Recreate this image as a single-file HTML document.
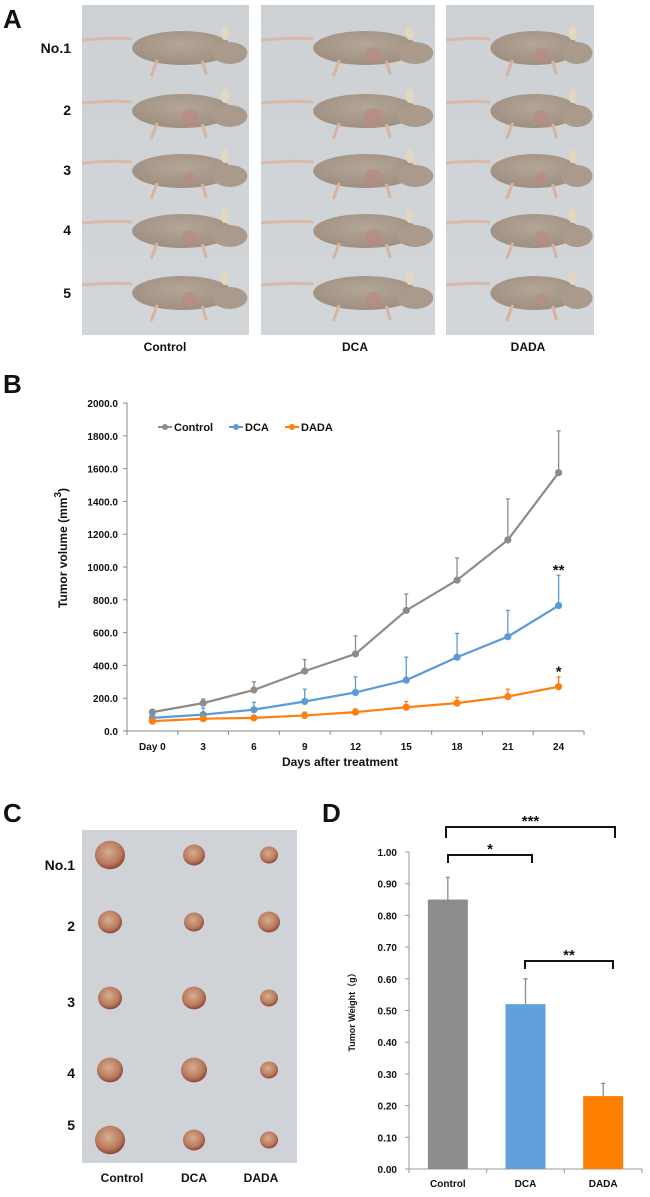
<!DOCTYPE html>
<html><head><meta charset="utf-8">
<style>
html,body{margin:0;padding:0;background:#fff;}
svg{display:block;font-family:"Liberation Sans",sans-serif;}
.t{font-weight:bold;fill:#111;}
</style></head>
<body>
<svg id="fig" width="650" height="1197" viewBox="0 0 650 1197">
<defs>
<linearGradient id="bgA" x1="0" y1="0" x2="0" y2="1"><stop offset="0" stop-color="#cdd1d4"/><stop offset="1" stop-color="#d3d6d8"/></linearGradient>
<radialGradient id="mouse" cx="0.5" cy="0.4" r="0.6"><stop offset="0" stop-color="#b4a696"/><stop offset="1" stop-color="#9e8f80"/></radialGradient>
<radialGradient id="tum" cx="0.45" cy="0.4" r="0.6"><stop offset="0" stop-color="#d5ae90"/><stop offset="0.7" stop-color="#b97a5e"/><stop offset="1" stop-color="#8c4634"/></radialGradient>
</defs>

<text class="t" x="3" y="28" font-size="26">A</text>
<g id="panelA"></g>
<text class="t" x="71" y="53" font-size="14" text-anchor="end">No.1</text>
<text class="t" x="71" y="115" font-size="14" text-anchor="end">2</text>
<text class="t" x="71" y="175" font-size="14" text-anchor="end">3</text>
<text class="t" x="71" y="235" font-size="14" text-anchor="end">4</text>
<text class="t" x="71" y="298" font-size="14" text-anchor="end">5</text>
<text class="t" x="165" y="351" font-size="12" text-anchor="middle">Control</text>
<text class="t" x="355" y="351" font-size="12" text-anchor="middle">DCA</text>
<text class="t" x="528" y="351" font-size="12" text-anchor="middle">DADA</text>

<text class="t" x="3" y="393" font-size="26">B</text>
<g id="chartB"></g>

<text class="t" x="3" y="822" font-size="26">C</text>
<g id="panelC"></g>
<text class="t" x="75" y="870" font-size="14" text-anchor="end">No.1</text>
<text class="t" x="75" y="931" font-size="14" text-anchor="end">2</text>
<text class="t" x="75" y="1007" font-size="14" text-anchor="end">3</text>
<text class="t" x="75" y="1078" font-size="14" text-anchor="end">4</text>
<text class="t" x="75" y="1130" font-size="14" text-anchor="end">5</text>
<text class="t" x="122" y="1182" font-size="12" text-anchor="middle">Control</text>
<text class="t" x="194" y="1182" font-size="12" text-anchor="middle">DCA</text>
<text class="t" x="261" y="1182" font-size="12" text-anchor="middle">DADA</text>

<text class="t" x="322" y="822" font-size="26">D</text>
<g id="chartD"></g>
</svg>

<script>
const daysB = ["Day 0","3","6","9","12","15","18","21","24"];
const controlVol = [115,170,250,365,470,735,920,1165,1575];
const controlErr = [15,25,50,70,110,100,135,250,255];
const dcaVol = [80,100,130,180,235,310,450,575,765];
const dcaErr = [15,40,45,75,95,140,145,160,185];
const dadaVol = [60,75,80,95,115,145,170,210,270];
const dadaErr = [10,15,15,20,20,35,35,45,60];
const yTicksB = [0,200,400,600,800,1000,1200,1400,1600,1800,2000];

const groupsD = ["Control","DCA","DADA"];
const weightD = [0.85,0.52,0.23];
const weightErr = [0.07,0.08,0.04];
const yTicksD = [0,0.1,0.2,0.3,0.4,0.5,0.6,0.7,0.8,0.9,1.0];

const NS="http://www.w3.org/2000/svg";
function mk(parent,tag,attrs,text){const e=document.createElementNS(NS,tag);for(const k in attrs)e.setAttribute(k,attrs[k]);if(text!==undefined)e.textContent=text;parent.appendChild(e);return e;}

(function(){
  const g=document.getElementById('panelA');
  const panels=[[82,249],[261,435],[446,594]];
  const rowsY=[45,108,168,228,290];
  const tumorR=[[0,9,6,8,8],[8,10,9,9,8],[7,8,6,7,6]];
  panels.forEach((p,pi)=>{
    const r=mk(g,'rect',{x:p[0],y:5,width:p[1]-p[0],height:330,fill:'url(#bgA)'});
    
    
    const w=p[1]-p[0];
    rowsY.forEach((y,ri)=>{
      const cx=p[0]+w*0.6, bw=w*0.3;
      mk(g,'path',{d:`M${p[0]} ${y-5} Q ${p[0]+w*0.2} ${y-8} ${cx-bw} ${y-6}`,stroke:'#d9b9a8','stroke-width':3,fill:'none'});
      mk(g,'ellipse',{cx:cx,cy:y+3,rx:bw,ry:17,fill:'url(#mouse)'});
      mk(g,'ellipse',{cx:cx+bw*0.95,cy:y+8,rx:bw*0.35,ry:11,fill:'#a99a8b'});
      mk(g,'ellipse',{cx:cx+bw*0.85,cy:y-12,rx:4,ry:7,fill:'#e3d7bf'});
      mk(g,'path',{d:`M${cx-bw*0.5} ${y+15} l-6 16 M${cx+bw*0.4} ${y+16} l4 14`,stroke:'#d8b3a0','stroke-width':3,fill:'none'});
      if(tumorR[pi][ri]) mk(g,'circle',{cx:cx+bw*0.15,cy:y+10,r:tumorR[pi][ri],fill:'#b88c83','opacity':0.8});
    });
  });
})();

(function(){
  const g=document.getElementById('panelC');
  const r=mk(g,'rect',{x:82,y:830,width:215,height:333,fill:'#cfd2d6'});
  
  
  const cols=[110,194,269];
  const rowsY=[855,922,998,1070,1140];
  const sz=[[15,11,9],[12,10,11],[12,12,9],[13,13,9],[15,11,9]];
  rowsY.forEach((y,ri)=>cols.forEach((x,ci)=>{
    const s=sz[ri][ci];
    mk(g,'ellipse',{cx:x,cy:y,rx:s,ry:s*0.95,fill:'url(#tum)'});
  }));
})();

(function(){
  const g=document.getElementById('chartB');
  const x0=127,x1=584,step=(x1-x0)/9;
  const xs=i=>x0+step*(i+0.5);
  const ys=v=>731-v*0.164;
  const ax=mk(g,'line',{x1:x0,y1:ys(0),x2:x1,y2:ys(0),stroke:'#8a8a8a','stroke-width':1});
  
  
  const ay=mk(g,'line',{x1:x0,y1:ys(0),x2:x0,y2:ys(2000),stroke:'#8a8a8a','stroke-width':1});
  
  
  yTicksB.forEach(v=>{
    mk(g,'line',{x1:x0-4,y1:ys(v),x2:x0,y2:ys(v),stroke:'#8a8a8a'});
    const t=mk(g,'text',{x:x0-9,y:ys(v)+4,'font-size':10,'text-anchor':'end',class:'t'},v.toFixed(1));
    
    
  });
  for(let k=0;k<=9;k++) mk(g,'line',{x1:x0+step*k,y1:ys(0),x2:x0+step*k,y2:ys(0)+4,stroke:'#8a8a8a'});
  daysB.forEach((d,i)=>{
    const t=mk(g,'text',{x:xs(i),y:750,'font-size':10,'text-anchor':'middle',class:'t'},d);
    
    
  });
  const xt=mk(g,'text',{x:340,y:766,'font-size':12,'text-anchor':'middle',class:'t'},'Days after treatment');
  
  
  const yt=mk(g,'text',{x:0,y:0,'font-size':12,'text-anchor':'middle',class:'t',transform:'translate(67,548) rotate(-90)'});
  
  
  yt.innerHTML='Tumor volume (mm<tspan dy="-6" font-size="10">3</tspan><tspan dy="6">)</tspan>';

  const series=[[controlVol,controlErr,'#8c8c8c','control'],[dcaVol,dcaErr,'#5b9bd5','dca'],[dadaVol,dadaErr,'#ff7f0e','dada']];
  series.forEach(([vals,errs,col,nm])=>{
    vals.forEach((v,i)=>{
      const e=mk(g,'line',{x1:xs(i),y1:ys(v),x2:xs(i),y2:ys(v+errs[i]),stroke:col,'stroke-width':1.3});
      
      
      mk(g,'line',{x1:xs(i)-2,y1:ys(v+errs[i]),x2:xs(i)+2,y2:ys(v+errs[i]),stroke:col,'stroke-width':1.3});
    });
    const pl=mk(g,'polyline',{points:vals.map((v,i)=>xs(i)+','+ys(v)).join(' '),fill:'none',stroke:col,'stroke-width':2.2});
    
    
    vals.forEach((v,i)=>{
      const c=mk(g,'circle',{cx:xs(i),cy:ys(v),r:3.6,fill:col});
      
      
    });
  });
  const s1=mk(g,'text',{x:xs(8),y:ys(1000)+8,'font-size':15,'text-anchor':'middle',class:'t'},'**');
  
  
  const s2=mk(g,'text',{x:xs(8),y:ys(380)+8,'font-size':15,'text-anchor':'middle',class:'t'},'*');
  
  
  const leg=[['Control','#8c8c8c',158],['DCA','#5b9bd5',229],['DADA','#ff7f0e',285]];
  leg.forEach(([l,c,x])=>{
    const lg=mk(g,'g',{});
    
    
    mk(lg,'line',{x1:x,y1:427,x2:x+14,y2:427,stroke:c,'stroke-width':2});
    mk(lg,'circle',{cx:x+7,cy:427,r:3,fill:c});
    mk(lg,'text',{x:x+16,y:431,'font-size':11,class:'t'},l);
  });
})();

(function(){
  const g=document.getElementById('chartD');
  const x0=409,x1=642,band=(x1-x0)/3;
  const ys=v=>1169-v*317;
  const xc=i=>x0+band*(i+0.5);
  const cols=['#8c8c8c','#62a0db','#ff7f00'];
  const ay=mk(g,'line',{x1:x0,y1:ys(0),x2:x0,y2:ys(1),stroke:'#9a9a9a'});
  
  
  const ax=mk(g,'line',{x1:x0,y1:ys(0),x2:x1,y2:ys(0),stroke:'#9a9a9a'});
  
  
  yTicksD.forEach(v=>{
    mk(g,'line',{x1:x0-4,y1:ys(v),x2:x0,y2:ys(v),stroke:'#9a9a9a'});
    const t=mk(g,'text',{x:x0-12,y:ys(v)+4,'font-size':10,'text-anchor':'end',class:'t'},v.toFixed(2));
    
    
  });
  for(let k=0;k<=3;k++) mk(g,'line',{x1:x0+band*k,y1:ys(0),x2:x0+band*k,y2:ys(0)+4,stroke:'#9a9a9a'});
  groupsD.forEach((n,i)=>{
    const w=40;
    const b=mk(g,'rect',{x:xc(i)-w/2,y:ys(weightD[i]),width:w,height:ys(0)-ys(weightD[i]),fill:cols[i]});
    
    
    const e=mk(g,'line',{x1:xc(i),y1:ys(weightD[i]),x2:xc(i),y2:ys(weightD[i]+weightErr[i]),stroke:'#8c8c8c','stroke-width':1.3});
    
    
    mk(g,'line',{x1:xc(i)-2,y1:ys(weightD[i]+weightErr[i]),x2:xc(i)+2,y2:ys(weightD[i]+weightErr[i]),stroke:'#8c8c8c','stroke-width':1.3});
    const t=mk(g,'text',{x:xc(i),y:1187,'font-size':10,'text-anchor':'middle',class:'t'},n);
    
    
  });
  const yt=mk(g,'text',{x:0,y:0,'font-size':9,'text-anchor':'middle',class:'t',transform:'translate(355,1010) rotate(-90)'},'Tumor Weight（g）');
  
  
  yt.setAttribute('font-family','"Liberation Sans","Noto Sans CJK SC",sans-serif');
  const br=[[446,615,827,838,'***','bracket-control-dada'],[448,532,855,863,'*','bracket-control-dca'],[525,613,961,969,'**','bracket-dca-dada']];
  br.forEach(([a,b,top,bot,s,nm])=>{
    const p=mk(g,'path',{d:`M${a} ${bot} V${top} H${b} V${bot}`,fill:'none',stroke:'#111','stroke-width':2});
    
    
    const t=mk(g,'text',{x:(a+b)/2,y:top-1,'font-size':15,'text-anchor':'middle',class:'t'},s);
    
    
  });
})();
</script>
</body></html>
